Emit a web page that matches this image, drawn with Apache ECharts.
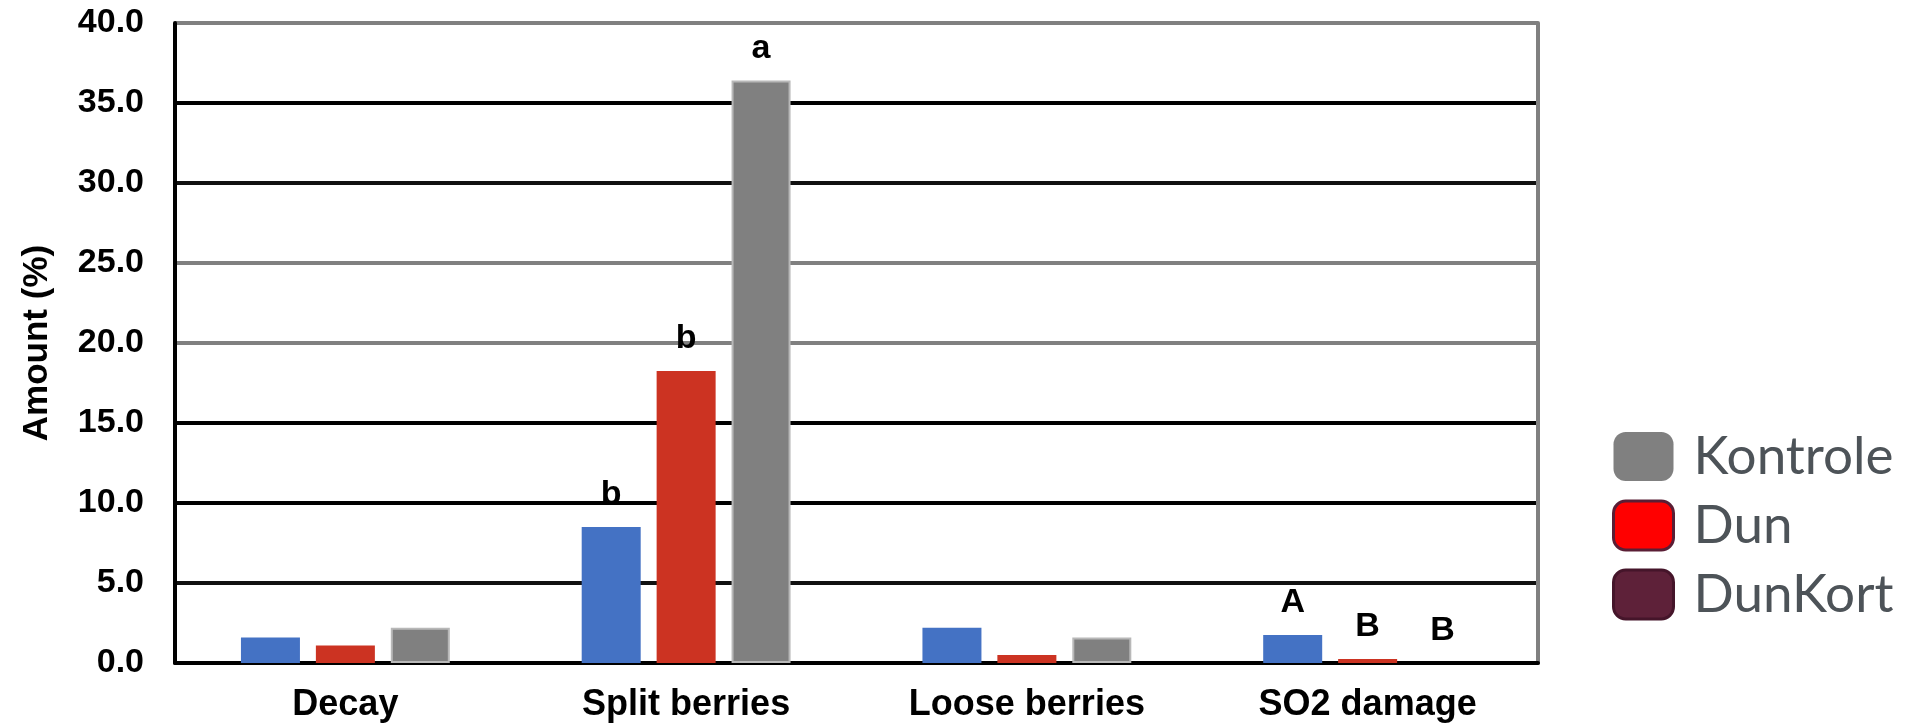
<!DOCTYPE html>
<html>
<head>
<meta charset="utf-8">
<script src="https://cdn.jsdelivr.net/npm/echarts@6/dist/echarts.min.js"></script>
<style>
  html, body { margin: 0; padding: 0; background: #fff; }
  #chart { width: 1918px; height: 728px; }
</style>
</head>
<body>
<div id="chart"></div>
<script>
// ---- data ----
const categories = ['Decay', 'Split berries', 'Loose berries', 'SO2 damage'];
const dunKortValues = [1.6, 8.5, 2.2, 1.75];
const dunValues = [1.1, 18.25, 0.5, 0.25];
const kontroleValues = [2.2, 36.4, 1.6, 0];
const dunKortLetters = ['', 'b', '', 'A'];
const dunLetters = ['', 'b', '', 'B'];
const kontroleLetters = ['', 'a', '', 'B'];
const legendNames = ['Kontrole', 'Dun', 'DunKort'];
const yTicks = [0, 5, 10, 15, 20, 25, 30, 35, 40];

const FONT = "'Liberation Sans', Arial, sans-serif";

const chart = echarts.init(document.getElementById('chart'));

function letterLabel(letters) {
  return {
    show: true,
    position: 'top',
    distance: 15,
    fontFamily: FONT,
    fontWeight: 'bold',
    fontSize: 34,
    color: '#000',
    formatter: p => letters[p.dataIndex]
  };
}

const option = {
  animation: false,
  backgroundColor: '#fff',
  grid: { left: 175, right: 380, top: 23, bottom: 65, containLabel: false },
  legend: {
    orient: 'vertical',
    left: 1612,
    top: 430,
    padding: 0,
    itemWidth: 60,
    itemHeight: 49,
    itemGap: 16,
    icon: 'roundRect',
    textStyle: { fontFamily: "Lato, 'Noto Sans', sans-serif", fontSize: 53, color: '#4d5358', padding: [0, 0, 0, 15] },
    data: [
      { name: legendNames[0], itemStyle: { color: '#808080', borderWidth: 0 } },
      { name: legendNames[1], itemStyle: { color: '#ff0000', borderColor: '#5a1e35', borderWidth: 3 } },
      { name: legendNames[2], itemStyle: { color: '#5e2139', borderColor: '#45152a', borderWidth: 3 } }
    ]
  },
  xAxis: {
    type: 'category',
    data: categories,
    axisLine: { show: true, lineStyle: { color: '#000', width: 4 } },
    axisTick: { show: false },
    axisLabel: { fontFamily: FONT, fontWeight: 'bold', fontSize: 36, color: '#000', margin: 24 },
    splitLine: { show: false }
  },
  yAxis: [
    {
      type: 'value',
      min: yTicks[0],
      max: yTicks[yTicks.length - 1],
      interval: 5,
      name: 'Amount (%)',
      nameLocation: 'middle',
      nameRotate: 90,
      nameGap: 120,
      nameTextStyle: { fontFamily: FONT, fontWeight: 'bold', fontSize: 35, color: '#000' },
      axisLine: { show: true, lineStyle: { color: '#000', width: 4 } },
      axisTick: { show: false },
      axisLabel: {
        fontFamily: FONT, fontWeight: 'bold', fontSize: 34, color: '#000', margin: 31,
        formatter: v => v.toFixed(1)
      },
      splitLine: {
        show: true,
        showMinLine: true,
        showMaxLine: true,
        lineStyle: {
          width: 4,
          color: ['#000', '#111', '#000', '#000', '#808080', '#808080', '#111', '#000', '#808080']
        }
      }
    },
    {
      type: 'value',
      position: 'right',
      min: yTicks[0],
      max: yTicks[yTicks.length - 1],
      interval: 5,
      axisLine: { show: true, lineStyle: { color: '#808080', width: 4 } },
      axisTick: { show: false },
      axisLabel: { show: false },
      splitLine: { show: false }
    }
  ],
  series: [
    {
      name: 'DunKort',
      type: 'bar',
      yAxisIndex: 0,
      data: dunKortValues,
      barWidth: 59,
      barGap: '27%',
      itemStyle: { color: '#4472c4' },
      label: letterLabel(dunKortLetters)
    },
    {
      name: 'Dun',
      type: 'bar',
      yAxisIndex: 0,
      data: dunValues,
      barWidth: 59,
      barGap: '27%',
      itemStyle: { color: '#cc3322' },
      label: letterLabel(dunLetters)
    },
    {
      name: 'Kontrole',
      type: 'bar',
      yAxisIndex: 0,
      data: kontroleValues.map(v => v === 0 ? { value: v, itemStyle: { borderWidth: 0 } } : v),
      barWidth: 59,
      barGap: '27%',
      itemStyle: { color: '#808080', borderColor: '#b8b8b8', borderWidth: 2 },
      label: letterLabel(kontroleLetters)
    }
  ]
};

chart.setOption(option);
</script>
</body>
</html>
